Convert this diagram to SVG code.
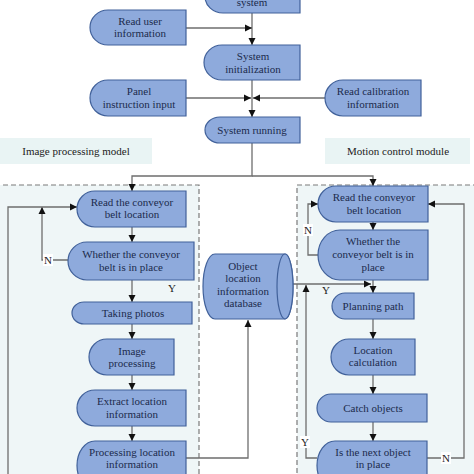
<svg xmlns="http://www.w3.org/2000/svg" width="474" height="474" viewBox="0 0 474 474">
<style>
.n{fill:#8eaadc;stroke:#41619a;stroke-width:1.2}
.t{font-family:"Liberation Serif",serif;font-size:11px;fill:#1c2a4c;text-anchor:middle}
.c{fill:none;stroke:#6e6e6e;stroke-width:1.3}
.lb{font-family:"Liberation Serif",serif;font-size:11px;fill:#222;text-anchor:middle}
.bg{fill:#e9f4f4}
.dash{fill:#eff6f7;stroke:#7a7a7a;stroke-width:1.2;stroke-dasharray:5 3}
.wb{fill:#ffffff}
</style>
<defs>
<marker id="a" markerWidth="8" markerHeight="8" refX="7" refY="4" orient="auto" markerUnits="userSpaceOnUse">
<path d="M0,0.5 L7,4 L0,7.5 Z" fill="#111"/>
</marker>
</defs>
<rect width="474" height="474" fill="#ffffff"/>
<g id="panels">
<rect class="bg" x="0" y="138" width="152" height="26"/>
<text class="lb" x="76" y="155">Image processing model</text>
<rect class="bg" x="325" y="138" width="145" height="26"/>
<text class="lb" x="398" y="155">Motion control module</text>
<rect class="dash" x="-5" y="185" width="204" height="300"/>
<rect class="dash" x="297" y="185" width="200" height="300"/>
</g>
<g id="connectors">
<path class="c" d="M252,13 V45" marker-end="url(#a)"/>
<path class="c" d="M186,28 H252" marker-end="url(#a)"/>
<path class="c" d="M252,80 V117" marker-end="url(#a)"/>
<path class="c" d="M186,98 H251" marker-end="url(#a)"/>
<path class="c" d="M325,98 H253" marker-end="url(#a)"/>
<path class="c" d="M252,143 V176 H132 V191" marker-end="url(#a)"/>
<path class="c" d="M252,176 H373 V186" marker-end="url(#a)"/>
<path class="c" d="M132,227 V242" marker-end="url(#a)"/>
<path class="c" d="M68,260 H42 V207" marker-end="url(#a)"/>
<path class="c" d="M8,474 V207 H77" marker-end="url(#a)"/>
<path class="c" d="M132,280 V302" marker-end="url(#a)"/>
<path class="c" d="M132,324 V339" marker-end="url(#a)"/>
<path class="c" d="M132,375 V390" marker-end="url(#a)"/>
<path class="c" d="M132,426 V441" marker-end="url(#a)"/>
<path class="c" d="M186,458 H248 V320" marker-end="url(#a)"/>
<path class="c" d="M293,284 H371" marker-end="url(#a)"/>
<path class="c" d="M373,222 V230" marker-end="url(#a)"/>
<path class="c" d="M373,280 V293" marker-end="url(#a)"/>
<path class="c" d="M318,255 H308 V204 H318" marker-end="url(#a)"/>
<path class="c" d="M373,319 V339" marker-end="url(#a)"/>
<path class="c" d="M373,375 V394" marker-end="url(#a)"/>
<path class="c" d="M373,422 V441" marker-end="url(#a)"/>
<path class="c" d="M317,458 H306 V285" marker-end="url(#a)"/>
<path class="c" d="M427,458 H464 V204 H428" marker-end="url(#a)"/>
<rect class="wb" x="43" y="254" width="10" height="12"/>
<text class="lb" x="48" y="264">N</text>
<text class="lb" x="172" y="292">Y</text>
<rect class="wb" x="303" y="224" width="10" height="12"/>
<text class="lb" x="308" y="234">N</text>
<text class="lb" x="326" y="294">Y</text>
<rect class="wb" x="300" y="436" width="10" height="12"/>
<text class="lb" x="305" y="446">Y</text>
<rect class="wb" x="441" y="452" width="10" height="12"/>
<text class="lb" x="446" y="462">N</text>
</g>
<g id="start">
<path class="n" d="M223,-20 H300 V13 H223 A18,16.5 0 0 1 223,-20 Z"/>
<text class="t" x="252" y="6">system</text>
</g>
<g id="readUser">
<path class="n" d="M108,10 H186 V45 H108 A18,17.5 0 0 1 108,10 Z"/>
<text class="t" x="140" y="25">Read user</text>
<text class="t" x="140" y="37">information</text>
</g>
<g id="sysInit">
<path class="n" d="M222,45 H300 V80 H222 A18,17.5 0 0 1 222,45 Z"/>
<text class="t" x="253" y="60">System</text>
<text class="t" x="253" y="73">initialization</text>
</g>
<g id="panel">
<path class="n" d="M108,80 H186 V116 H108 A18,18 0 0 1 108,80 Z"/>
<text class="t" x="139" y="95">Panel</text>
<text class="t" x="139" y="108">instruction input</text>
</g>
<g id="calib">
<path class="n" d="M343,80 H421 V116 H343 A18,18 0 0 1 343,80 Z"/>
<text class="t" x="373" y="95">Read calibration</text>
<text class="t" x="373" y="108">information</text>
</g>
<g id="running">
<path class="n" d="M220,117 H300 V143 H220 A15,13 0 0 1 220,117 Z"/>
<text class="t" x="252" y="134">System running</text>
</g>
<g id="L1">
<path class="n" d="M95,191 H186 V227 H95 A18,18 0 0 1 95,191 Z"/>
<text class="t" x="132" y="206">Read the conveyor</text>
<text class="t" x="132" y="218">belt location</text>
</g>
<g id="L2">
<path class="n" d="M87,242 H194 V280 H87 A19,19 0 0 1 87,242 Z"/>
<text class="t" x="131" y="258">Whether the conveyor</text>
<text class="t" x="131" y="271">belt is in place</text>
</g>
<g id="L3">
<path class="n" d="M84,302 H192 V324 H84 A12,11 0 0 1 84,302 Z"/>
<text class="t" x="133" y="317">Taking photos</text>
</g>
<g id="L4">
<path class="n" d="M107,339 H174 V375 H107 A18,18 0 0 1 107,339 Z"/>
<text class="t" x="132" y="355">Image</text>
<text class="t" x="132" y="367">processing</text>
</g>
<g id="L5">
<path class="n" d="M95,390 H186 V426 H95 A18,18 0 0 1 95,390 Z"/>
<text class="t" x="132" y="405">Extract location</text>
<text class="t" x="132" y="418">information</text>
</g>
<g id="L6">
<path class="n" d="M95,441 H186 V490 H95 A18,24.5 0 0 1 95,441 Z"/>
<text class="t" x="132" y="456">Processing location</text>
<text class="t" x="132" y="468">information</text>
</g>
<g id="db">
<path class="n" d="M215,254 H285 A8,32.5 0 0 1 285,319 H215 A12,32.5 0 0 1 215,254 Z"/>
<ellipse class="n" cx="285" cy="286.5" rx="8" ry="32.5"/>
<text class="t" x="243" y="270">Object</text>
<text class="t" x="243" y="282">location</text>
<text class="t" x="243" y="295">information</text>
<text class="t" x="243" y="307">database</text>
</g>
<g id="R1">
<path class="n" d="M336,186 H428 V222 H336 A18,18 0 0 1 336,186 Z"/>
<text class="t" x="374" y="201">Read the conveyor</text>
<text class="t" x="374" y="214">belt location</text>
</g>
<g id="R2">
<path class="n" d="M340,230 H428 V280 H340 A22,25 0 0 1 340,230 Z"/>
<text class="t" x="373" y="245">Whether the</text>
<text class="t" x="373" y="258">conveyor belt is in</text>
<text class="t" x="373" y="271">place</text>
</g>
<g id="R3">
<path class="n" d="M345,293 H414 V319 H345 A13,13 0 0 1 345,293 Z"/>
<text class="t" x="373" y="310">Planning path</text>
</g>
<g id="R4">
<path class="n" d="M349,339 H415 V375 H349 A18,18 0 0 1 349,339 Z"/>
<text class="t" x="373" y="354">Location</text>
<text class="t" x="373" y="366">calculation</text>
</g>
<g id="R5">
<path class="n" d="M331,394 H427 V422 H331 A14,14 0 0 1 331,394 Z"/>
<text class="t" x="373" y="412">Catch objects</text>
</g>
<g id="R6">
<path class="n" d="M335,441 H427 V490 H335 A18,24.5 0 0 1 335,441 Z"/>
<text class="t" x="373" y="456">Is the next object</text>
<text class="t" x="373" y="468">in place</text>
</g>
</svg>
